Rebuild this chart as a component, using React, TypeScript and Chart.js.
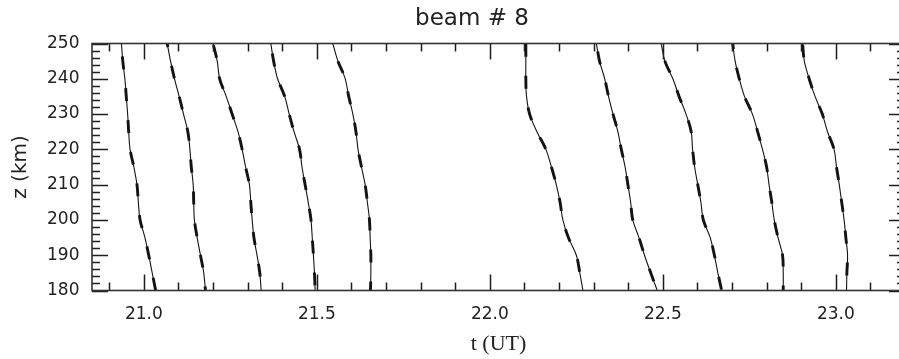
import React, { useEffect, useRef } from 'react';
import { Chart, registerables } from 'chart.js';

Chart.register(...registerables);

// Altitude levels (km) at which each curve's time (UT, hours) was read
const Z_LEVELS = [180, 185, 190, 195, 200, 205, 210, 215, 220, 225, 230, 235, 240, 245, 250];

const CURVE_1 = [21.034, 21.024, 21.014, 21.003, 20.989, 20.984, 20.980, 20.971, 20.960, 20.956, 20.953, 20.949, 20.945, 20.939, 20.935];
const CURVE_2 = [21.178, 21.173, 21.1635, 21.154, 21.146, 21.144, 21.1425, 21.137, 21.133, 21.127, 21.1145, 21.102, 21.0885, 21.077, 21.0675];
const CURVE_3 = [21.339, 21.335, 21.327, 21.318, 21.313, 21.309, 21.305, 21.294, 21.284, 21.272, 21.255, 21.238, 21.219, 21.212, 21.200];
const CURVE_4 = [21.495, 21.493, 21.490, 21.4866, 21.483, 21.475, 21.466, 21.457, 21.450, 21.434, 21.420, 21.407, 21.3865, 21.375, 21.367];
const CURVE_5 = [21.655, 21.656, 21.656, 21.654, 21.652, 21.646, 21.6395, 21.629, 21.619, 21.613, 21.604, 21.592, 21.582, 21.561, 21.546];
const CURVE_6 = [22.269, 22.260, 22.250, 22.227, 22.211, 22.203, 22.192, 22.178, 22.162, 22.136, 22.115, 22.106, 22.104, 22.104, 22.104];
const CURVE_7 = [22.484, 22.465, 22.447, 22.431, 22.413, 22.407, 22.399, 22.391, 22.380, 22.370, 22.356, 22.343, 22.332, 22.317, 22.308];
const CURVE_8 = [22.670, 22.659, 22.649, 22.637, 22.617, 22.610, 22.601, 22.592, 22.586, 22.582, 22.567, 22.547, 22.529, 22.506, 22.495];
const CURVE_9 = [22.848, 22.848, 22.846, 22.833, 22.822, 22.815, 22.807, 22.800, 22.788, 22.774, 22.759, 22.736, 22.721, 22.709, 22.702];
const CURVE_10 = [23.031, 23.032, 23.034, 23.029, 23.024, 23.017, 23.010, 23.002, 22.995, 22.976, 22.961, 22.940, 22.923, 22.909, 22.904];

const CURVES = [CURVE_1, CURVE_2, CURVE_3, CURVE_4, CURVE_5, CURVE_6, CURVE_7, CURVE_8, CURVE_9, CURVE_10];

const X_MIN = 20.85;
const X_MAX = 23.2;
const Y_MIN = 180;
const Y_MAX = 250;
const X_TICKS = [21.0, 21.5, 22.0, 22.5, 23.0];
const Y_TICKS = [180, 190, 200, 210, 220, 230, 240, 250];
const X_MINOR_STEP = 0.1;
const Y_MINOR_STEP = 2;

const INK = '#141414';

const axisFrame = {
  id: 'axisFrame',
  afterDraw(chart: any) {
    const ctx: CanvasRenderingContext2D = chart.ctx;
    const a = chart.chartArea;
    const xs = chart.scales.x;
    const ys = chart.scales.y;
    ctx.save();
    ctx.setLineDash([]);
    ctx.strokeStyle = '#1e1e1e';
    ctx.lineWidth = 1.5;
    const first = Math.ceil(X_MIN / X_MINOR_STEP - 1e-9);
    const last = Math.floor(X_MAX / X_MINOR_STEP + 1e-9);
    for (let k = first; k <= last; k++) {
      const v = k * X_MINOR_STEP;
      const isMajor = X_TICKS.some((t) => Math.abs(t - v) < 1e-6);
      const px = Math.round(xs.getPixelForValue(v)) + 0.5;
      const len = isMajor ? 16 : 8;
      ctx.beginPath();
      ctx.moveTo(px, a.bottom);
      ctx.lineTo(px, a.bottom - len);
      ctx.moveTo(px, a.top);
      ctx.lineTo(px, a.top + len);
      ctx.stroke();
    }
    for (let v = Y_MIN; v <= Y_MAX; v += Y_MINOR_STEP) {
      const isMajor = Y_TICKS.includes(v);
      const py = Math.round(ys.getPixelForValue(v)) + 0.5;
      const len = isMajor ? 16 : 8;
      ctx.beginPath();
      ctx.moveTo(a.left, py);
      ctx.lineTo(a.left + len, py);
      ctx.moveTo(a.right, py);
      ctx.lineTo(a.right - len, py);
      ctx.stroke();
    }
    ctx.lineWidth = 1.6;
    ctx.strokeStyle = '#333';
    ctx.strokeRect(a.left, a.top, a.right - a.left, a.bottom - a.top);
    ctx.restore();
  },
};

export default function App() {
  const ref = useRef<HTMLCanvasElement | null>(null);

  useEffect(() => {
    const canvas = ref.current;
    if (!canvas) return;
    const datasets: any[] = [];
    CURVES.forEach((curve, i) => {
      const pts = curve.map((t, j) => ({ x: t, y: Z_LEVELS[j] }));
      datasets.push({
        label: `profile ${i + 1}`,
        data: pts,
        showLine: true,
        borderColor: INK,
        borderWidth: 1.1,
        pointRadius: 0,
        tension: 0.35,
        fill: false,
      });
      datasets.push({
        label: `fit ${i + 1}`,
        data: pts,
        showLine: true,
        borderColor: INK,
        borderWidth: 2.9,
        borderDash: [13, 19],
        borderDashOffset: (i * 9) % 32,
        pointRadius: 0,
        tension: 0.35,
        fill: false,
      });
    });

    const chart = new Chart(canvas, {
      type: 'scatter',
      data: { datasets },
      options: {
        responsive: false,
        maintainAspectRatio: false,
        animation: false,
        devicePixelRatio: 1,
        layout: { padding: 0 },
        plugins: {
          legend: { display: false },
          tooltip: { enabled: false },
          title: {
            display: true,
            text: 'beam # 8',
            color: '#222',
            font: { family: '"DejaVu Sans", sans-serif', size: 23, weight: 'normal' },
            padding: { top: 5.7, bottom: 10.2 },
          },
        },
        scales: {
          x: {
            type: 'linear',
            min: X_MIN,
            max: X_MAX,
            grid: { display: false, drawTicks: false },
            border: { display: false },
            afterBuildTicks: (s: any) => {
              s.ticks = X_TICKS.map((v) => ({ value: v }));
            },
            afterFit: (s: any) => {
              s.height = 68.5;
            },
            ticks: {
              padding: 14,
              color: '#222',
              maxRotation: 0,
              autoSkip: false,
              font: { family: '"DejaVu Sans", sans-serif', size: 17 },
              callback: (v: any) => Number(v).toFixed(1),
            },
            title: {
              display: true,
              text: 't (UT)',
              color: '#222',
              font: { family: '"Liberation Serif", serif', size: 22 },
              padding: { top: 0, bottom: 1.5 },
            },
          },
          y: {
            type: 'linear',
            min: Y_MIN,
            max: Y_MAX,
            grid: { display: false, drawTicks: false },
            border: { display: false },
            afterBuildTicks: (s: any) => {
              s.ticks = Y_TICKS.map((v) => ({ value: v }));
            },
            afterFit: (s: any) => {
              s.width = 92;
            },
            ticks: {
              padding: 12.5,
              color: '#222',
              autoSkip: false,
              font: { family: '"DejaVu Sans", sans-serif', size: 17 },
              callback: (v: any) => String(v),
            },
            title: {
              display: true,
              text: 'z (km)',
              color: '#222',
              font: { family: '"DejaVu Sans", sans-serif', size: 20 },
              padding: { top: 9, bottom: 0 },
            },
          },
          yRight: {
            type: 'linear',
            position: 'right',
            min: Y_MIN,
            max: Y_MAX,
            grid: { display: false, drawTicks: false },
            border: { display: false },
            ticks: { display: false },
            afterFit: (s: any) => {
              s.width = 39;
            },
          },
        },
      },
      plugins: [axisFrame],
    });
    return () => chart.destroy();
  }, []);

  return (
    <div
      style={{
        position: 'fixed',
        left: 0,
        top: 0,
        width: 899,
        height: 359,
        overflow: 'hidden',
        background: '#fff',
      }}
    >
      <canvas ref={ref} width={944} height={359} style={{ display: 'block', width: 944, height: 359 }} />
    </div>
  );
}
